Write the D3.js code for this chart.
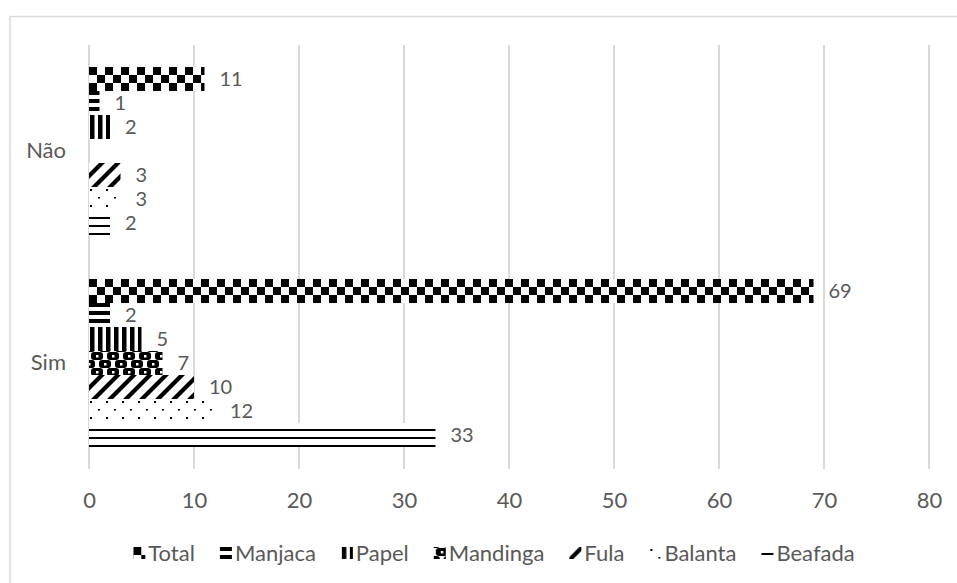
<!DOCTYPE html>
<html><head><meta charset="utf-8">
<script src="https://cdn.jsdelivr.net/npm/d3@7"></script>
<style>
html,body{margin:0;padding:0;background:#fff;overflow:hidden}
text{font-family:Lato,"Open Sans",sans-serif;fill:#595959}
</style></head>
<body>
<svg id="chart" width="957" height="583"></svg>
<script>
const categories = ["Não", "Sim"];
const seriesNames = ["Total", "Manjaca", "Papel", "Mandinga", "Fula", "Balanta", "Beafada"];
const naoValues = [11, 1, 2, null, 3, 3, 2];
const simValues = [69, 2, 5, 7, 10, 12, 33];
const xTicks = [0, 10, 20, 30, 40, 50, 60, 70, 80];
const patternIds = ["pTotal", "pManjaca", "pPapel", "pMandinga", "pFula", "pBalanta", "pBeafada"];

const valuesByCat = {"Não": naoValues, "Sim": simValues};

const svg = d3.select("#chart");
const W = 957, H = 583;
const FS = 22;
const LFS = 20;
svg.append("rect").attr("x",0).attr("y",0).attr("width",W).attr("height",H).attr("fill","#fff");
svg.append("rect").attr("x",10).attr("y",16.5).attr("width",1100).attr("height",800)
  .attr("fill","none").attr("stroke","#d9d9d9").attr("stroke-width",1.5);

// patterns (user space of the referencing element, which is translated to the bar origin)
const defs = svg.append("defs");
function pat(id, w, h){
  const p = defs.append("pattern").attr("id",id).attr("patternUnits","userSpaceOnUse")
    .attr("width",w).attr("height",h);
  p.append("rect").attr("width",w).attr("height",h).attr("fill","#fff");
  return p;
}
// checkerboard
let p = pat("pTotal",16,16);
p.append("rect").attr("x",0).attr("y",0).attr("width",8).attr("height",8).attr("fill","#000");
p.append("rect").attr("x",8).attr("y",8).attr("width",8).attr("height",8).attr("fill","#000");
// dark horizontal
p = pat("pManjaca",8,8);
p.append("rect").attr("x",0).attr("y",0).attr("width",8).attr("height",4).attr("fill","#000");
// dark vertical
p = pat("pPapel",8,8);
p.append("rect").attr("x",1).attr("y",0).attr("width",4.5).attr("height",8).attr("fill","#000");
// sphere-like
p = pat("pMandinga",16,16);
[[8,5],[0,13],[16,13],[0,-3],[16,-3],[8,21]].forEach(([cx,cy])=>{
  p.append("rect").attr("x",cx-6).attr("y",cy-4).attr("width",12).attr("height",8)
    .attr("rx",3).attr("fill","#000");
  p.append("rect").attr("x",cx-1).attr("y",cy-1).attr("width",2.5).attr("height",2.5).attr("fill","#fff");
});
// wide upward diagonal
p = pat("pFula",16,16);
p.append("polygon").attr("points","10,0 16,0 0,16 0,10").attr("fill","#000");
p.append("polygon").attr("points","16,10 16,16 10,16").attr("fill","#000");
// sparse dots
p = pat("pBalanta",16,16);
p.append("rect").attr("x",1).attr("y",2).attr("width",2).attr("height",2).attr("fill","#000");
p.append("rect").attr("x",9).attr("y",10).attr("width",2).attr("height",1.5).attr("fill","#000");
// narrow horizontal
p = pat("pBeafada",8,8);
p.append("rect").attr("x",0).attr("y",6).attr("width",8).attr("height",2).attr("fill","#000");

const plot = {left:89, right:929, top:45, bottom:469};
const x = d3.scaleLinear().domain([0,80]).range([plot.left, plot.right]);
const y0 = d3.scaleBand().domain(categories).range([plot.top, plot.bottom]).padding(0);
const y1 = d3.scaleBand().domain(seriesNames).range([0, y0.bandwidth()]).paddingInner(0).paddingOuter(0.917);

// gridlines
svg.append("g").selectAll("line").data(xTicks).join("line")
  .attr("x1",d=>x(d)).attr("x2",d=>x(d)).attr("y1",plot.top).attr("y2",plot.bottom)
  .attr("stroke","#d9d9d9").attr("stroke-width",2);

// x axis labels
const xAxis = d3.axisBottom(x).tickValues(xTicks).tickSize(0).tickPadding(0);
const gx = svg.append("g").attr("transform",`translate(0,${plot.bottom})`).call(xAxis);
gx.select(".domain").remove();
gx.selectAll("text").attr("y",31).attr("dy","0.35em").style("font-size",FS+"px")
  .style("font-family","Lato").attr("fill","#595959");

// y axis labels
const yAxis = d3.axisLeft(y0).tickSize(0).tickPadding(0);
const gy = svg.append("g").attr("transform",`translate(66,0)`).call(yAxis);
gy.select(".domain").remove();
gy.selectAll("text").style("font-size",FS+"px").style("font-family","Lato").attr("fill","#595959");

// bars
const rows = [];
categories.forEach(c=>{
  seriesNames.forEach((s,i)=>{
    const v = valuesByCat[c][i];
    if (v !== null) rows.push({c, s, i, v});
  });
});
const g = svg.append("g");
g.selectAll("g.bar").data(rows).join("g").attr("class","bar")
  .attr("transform",d=>`translate(${x(0)},${y0(d.c)+y1(d.s)})`)
  .append("rect")
  .attr("x",0).attr("y",0)
  .attr("width",d=>x(d.v)-x(0)).attr("height",y1.bandwidth())
  .attr("fill",d=>`url(#${patternIds[d.i]})`);
g.selectAll("text.lbl").data(rows).join("text").attr("class","lbl")
  .attr("x",d=>x(d.v)+15).attr("y",d=>y0(d.c)+y1(d.s)+y1.bandwidth()/2)
  .attr("dy","0.35em").style("font-size",LFS+"px").text(d=>d.v);

// legend
const leg = svg.append("g").attr("transform","translate(0,553)");
const items = [];
seriesNames.forEach((s,i)=>{
  const it = leg.append("g");
  it.append("g").attr("transform","translate(0,-6)")
    .append("rect").attr("x",0).attr("y",0).attr("width",12).attr("height",12)
    .attr("fill",`url(#${patternIds[i]})`);
  const t = it.append("text").attr("x",15).attr("dy","0.35em").style("font-size",FS+"px").text(s);
  const w = 15 + t.node().getComputedTextLength();
  items.push({it,w});
});
const gap = 25;
const total = d3.sum(items,d=>d.w) + gap*(items.length-1);
let cx = (116+872)/2 - total/2;
items.forEach(d=>{ d.it.attr("transform",`translate(${cx},0)`); cx += d.w + gap; });
</script>
</body></html>
